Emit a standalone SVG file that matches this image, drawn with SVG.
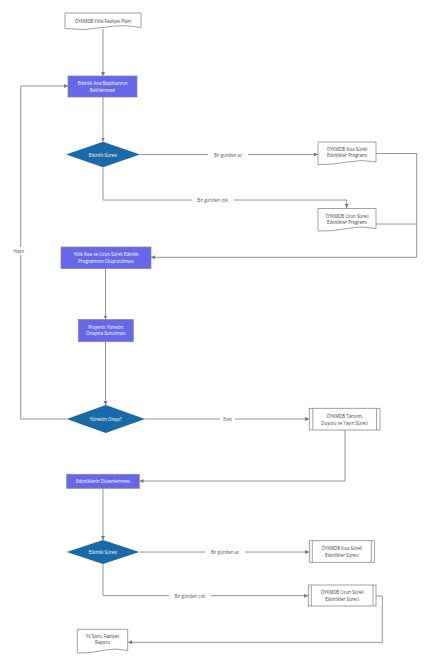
<svg xmlns="http://www.w3.org/2000/svg" width="430" height="669" viewBox="0 0 430 669">
<defs>
<marker id="ah" viewBox="0 0 6 6" refX="6" refY="3" markerWidth="4" markerHeight="4" orient="auto" markerUnits="userSpaceOnUse">
<path d="M0,0 L6,3 L0,6 z" fill="#7a7a7a"/>
</marker>
<style>
text{font-family:"Open Sans","Noto Sans","Liberation Sans",sans-serif;font-size:4.4px;text-anchor:middle;dominant-baseline:central}
.w{fill:#ffffff}
.d{fill:#444444}
.lbl{fill:#555555}
.task{fill:#6767e9;stroke:#8a8a9a;stroke-width:0.8}
.dec{fill:#196aa6;stroke:none}
.doc{fill:#ffffff;stroke:#8a8a8a;stroke-width:0.8}
.proc{fill:#ffffff;stroke:#8a8a8a;stroke-width:0.8}
.c{fill:none;stroke:#8a8a8a;stroke-width:0.9}
.lb{fill:#ffffff}
</style>
</defs>
<rect width="430" height="669" fill="#ffffff"/>
<g id="connectors">
<path class="c" d="M103,29 V76" marker-end="url(#ah)"/>
<path class="c" d="M103,97 V141.5" marker-end="url(#ah)"/>
<path class="c" d="M140,154.5 H318" marker-end="url(#ah)"/>
<rect class="lb" x="208" y="151.5" width="40" height="6"/>
<text class="lbl" x="228" y="154.5">Bir günden az</text>
<path class="c" d="M376,153.5 H416.7 V257.3 H151" marker-end="url(#ah)"/>
<path class="c" d="M103,167.5 V200 H346.7 V208" marker-end="url(#ah)"/>
<rect class="lb" x="192" y="197" width="42" height="6"/>
<text class="lbl" x="212.7" y="200">Bir günden çok</text>
<path class="c" d="M376,224 H416.7"/>
<path class="c" d="M105.5,268 V319.5" marker-end="url(#ah)"/>
<path class="c" d="M105.5,342 V405" marker-end="url(#ah)"/>
<path class="c" d="M145,419 H309" marker-end="url(#ah)"/>
<rect class="lb" x="220" y="416" width="15" height="6"/>
<text class="lbl" x="227.7" y="419">Evet</text>
<path class="c" d="M66.7,419 H20.7 V86 H68" marker-end="url(#ah)"/>
<rect class="lb" x="10" y="247" width="18" height="8"/>
<text class="lbl" x="19" y="251">Hayır</text>
<path class="c" d="M345,430 V481 H139.5" marker-end="url(#ah)"/>
<path class="c" d="M103,488.5 V540" marker-end="url(#ah)"/>
<path class="c" d="M139.5,552 H309" marker-end="url(#ah)"/>
<rect class="lb" x="205" y="549" width="40" height="6"/>
<text class="lbl" x="225" y="552">Bir günden az</text>
<path class="c" d="M103,564 V595.7 H308" marker-end="url(#ah)"/>
<rect class="lb" x="169" y="592.7" width="42" height="6"/>
<text class="lbl" x="190" y="595.7">Bir günden çok</text>
<path class="c" d="M376,596 H382.3 V642.3 H128" marker-end="url(#ah)"/>
</g>
<g id="n1">
<path class="doc" d="M65,13 H141 V27.5 Q122,24 103,27.5 T65,28.5 Z"/>
<text class="d" x="103" y="20.5">ÖYKMDB Yıllık Faaliyet Planı</text>
</g>
<g id="n2">
<rect class="task" x="68" y="76" width="69" height="21"/>
<text class="w" x="102.5" y="83.3">Etkinlik Ana Başlıklarının</text>
<text class="w" x="102.5" y="89.5">Belirlenmesi</text>
</g>
<g id="n3">
<path class="dec" d="M66,154.5 L103,141.7 L140,154.5 L103,167.3 Z"/>
<text class="w" x="103" y="154.5">Etkinlik Süresi</text>
</g>
<g id="n4">
<path class="doc" d="M318,142 H376 V162 Q361.5,159 347,162 T318,164.5 Z"/>
<text class="d" x="347" y="149">ÖYKMDB Kısa Süreli</text>
<text class="d" x="347" y="155">Etkinlikler Programı</text>
</g>
<g id="n5">
<path class="doc" d="M318,208.5 H376 V228.5 Q361.5,225.5 347,228.5 T318,231 Z"/>
<text class="d" x="347" y="215.5">ÖYKMDB Uzun Süreli</text>
<text class="d" x="347" y="221.5">Etkinlikler Programı</text>
</g>
<g id="n6">
<rect class="task" x="61" y="247" width="90" height="21.5"/>
<text class="w" x="106" y="254.3">Yıllık Kısa ve  Uzun Süreli Etkinlik</text>
<text class="w" x="106" y="260.5">Programının Oluşturulması</text>
</g>
<g id="n7">
<rect class="task" x="78.3" y="319.5" width="55" height="22.2"/>
<text class="w" x="105.8" y="327">Projenin Yönetim</text>
<text class="w" x="105.8" y="333.2">Onayına Sunulması</text>
</g>
<g id="n8">
<path class="dec" d="M66.7,419 L105.8,405 L145,419 L105.8,433 Z"/>
<text class="w" x="105.8" y="419">Yönetim Onayı?</text>
</g>
<g id="n9">
<rect class="proc" x="309.3" y="408.3" width="70.7" height="21.7"/>
<line class="proc" x1="312.8" y1="408.3" x2="312.8" y2="430"/>
<line class="proc" x1="376.5" y1="408.3" x2="376.5" y2="430"/>
<text class="d" x="344.7" y="416">ÖYKMDB Tanıtım,</text>
<text class="d" x="344.7" y="422.5">Duyuru ve Yayın Süreci</text>
</g>
<g id="n10">
<rect class="task" x="66.7" y="474.3" width="72.6" height="14"/>
<text class="w" x="103" y="481.3">Etkinliklerin Düzenlenmesi</text>
</g>
<g id="n11">
<path class="dec" d="M66.7,552 L103,540 L139.3,552 L103,564 Z"/>
<text class="w" x="103" y="552">Etkinlik Süresi</text>
</g>
<g id="n12">
<rect class="proc" x="309.3" y="540.7" width="65" height="21.6"/>
<line class="proc" x1="312.3" y1="540.7" x2="312.3" y2="562.3"/>
<line class="proc" x1="371.3" y1="540.7" x2="371.3" y2="562.3"/>
<text class="d" x="341.8" y="548.3">ÖYKMDB Kısa Süreli</text>
<text class="d" x="341.8" y="554.7">Etkinlikler Süreci</text>
</g>
<g id="n13">
<rect class="proc" x="308.3" y="585" width="67.7" height="21"/>
<line class="proc" x1="311.3" y1="585" x2="311.3" y2="606"/>
<line class="proc" x1="373" y1="585" x2="373" y2="606"/>
<text class="d" x="342.2" y="592.3">ÖYKMDB Uzun Süreli</text>
<text class="d" x="342.2" y="598.7">Etkinlikler Süreci</text>
</g>
<g id="n14">
<path class="doc" d="M77.3,629.3 H127.7 V650.5 Q115,647.5 102.5,650.5 T77.3,653 Z"/>
<text class="d" x="102.5" y="635.5">Yıl Sonu Faaliyet</text>
<text class="d" x="102.5" y="641.7">Raporu</text>
</g>
</svg>
